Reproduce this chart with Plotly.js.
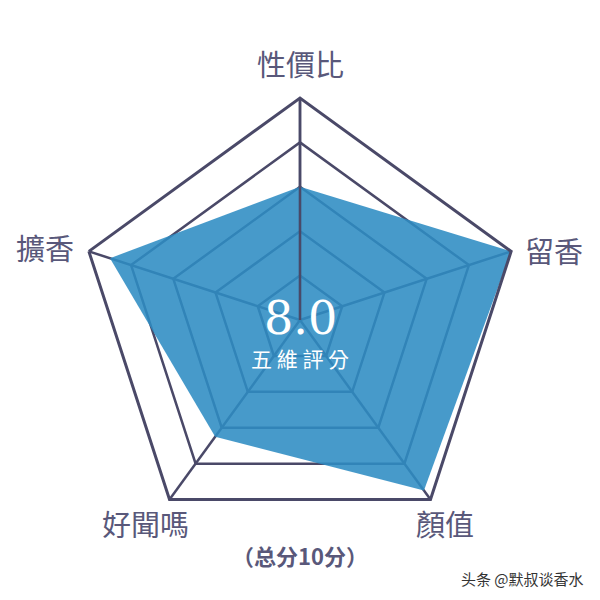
<!DOCTYPE html>
<html>
<head>
<meta charset="utf-8">
<script src="https://cdn.plot.ly/plotly-3.0.1.min.js"></script>
<style>
  html, body { margin: 0; padding: 0; background: #ffffff; }
  #chart { width: 600px; height: 600px; }
</style>
</head>
<body>
<div id="chart"></div>
<script>
// five rating dimensions, clockwise from the top
const categories = ['性價比', '留香', '顏值', '好聞嗎', '擴香'];
const scores = [6, 10, 9.5, 6.5, 9];
const totalScore = '8.0';
const centerLabel = '五維評分';
const footNote = '（总分10分）';
const watermark = '头条 @默叔谈香水';

const LINE = '#4a4968';
const TEXT = '#59587a';
const CJK = '"Noto Sans CJK TC", "Noto Sans CJK SC", sans-serif';

// label spots around the pentagon (paper coords), one per category
const labelX = [0.50, 0.923, 0.742, 0.242, 0.075];
const labelY = [0.895, 0.583, 0.128, 0.128, 0.588];

const traces = [{
  type: 'scatterpolar',
  r: scores.concat(scores[0]),
  theta: categories.concat(categories[0]),
  mode: 'lines',
  fill: 'toself',
  fillcolor: 'rgba(45,140,195,0.88)',
  line: { color: 'rgba(45,140,195,0.0)', width: 0 },
  hoverinfo: 'skip'
}];

const annotations = categories.map((c, i) => ({
  text: c, xref: 'paper', yref: 'paper', x: labelX[i], y: labelY[i],
  xanchor: 'center', yanchor: 'middle', showarrow: false,
  font: { family: CJK, size: 29, color: TEXT }
}));

annotations.push(
  {
    text: totalScore, xref: 'paper', yref: 'paper', x: 0.5, y: 0.47,
    xanchor: 'center', yanchor: 'middle', showarrow: false,
    font: { family: '"DejaVu Serif", "Liberation Serif", serif', size: 46, color: '#ffffff' }
  },
  {
    text: centerLabel.split('').join(' '), xref: 'paper', yref: 'paper', x: 0.5, y: 0.403,
    xanchor: 'center', yanchor: 'middle', showarrow: false,
    font: { family: CJK, size: 21, color: '#ffffff' }
  },
  {
    text: '<b>' + footNote + '</b>', xref: 'paper', yref: 'paper', x: 0.5, y: 0.075,
    xanchor: 'center', yanchor: 'middle', showarrow: false,
    font: { family: '"Noto Sans CJK SC", sans-serif', size: 22, color: TEXT }
  },
  {
    text: watermark, xref: 'paper', yref: 'paper', x: 0.976, y: 0.036,
    xanchor: 'right', yanchor: 'middle', showarrow: false,
    font: { family: '"Noto Sans CJK SC", sans-serif', size: 15, color: '#333333' }
  }
);

const layout = {
  width: 600,
  height: 600,
  margin: { l: 0, r: 0, t: 0, b: 0 },
  paper_bgcolor: '#ffffff',
  showlegend: false,
  polar: {
    domain: { x: [0.13, 0.87], y: [0.0967, 0.8367] },
    bgcolor: 'rgba(0,0,0,0)',
    gridshape: 'linear',
    radialaxis: {
      range: [0, 10],
      dtick: 2,
      showticklabels: false,
      ticks: '',
      showline: true,
      linecolor: LINE,
      linewidth: 2.5,
      gridcolor: LINE,
      gridwidth: 2.5,
      angle: 90
    },
    angularaxis: {
      direction: 'clockwise',
      rotation: 90,
      showline: true,
      linecolor: LINE,
      linewidth: 3,
      gridcolor: LINE,
      gridwidth: 2.5,
      ticks: '',
      showticklabels: false
    }
  },
  annotations: annotations
};

Plotly.newPlot('chart', traces, layout, { displayModeBar: false, staticPlot: true });
</script>
</body>
</html>
